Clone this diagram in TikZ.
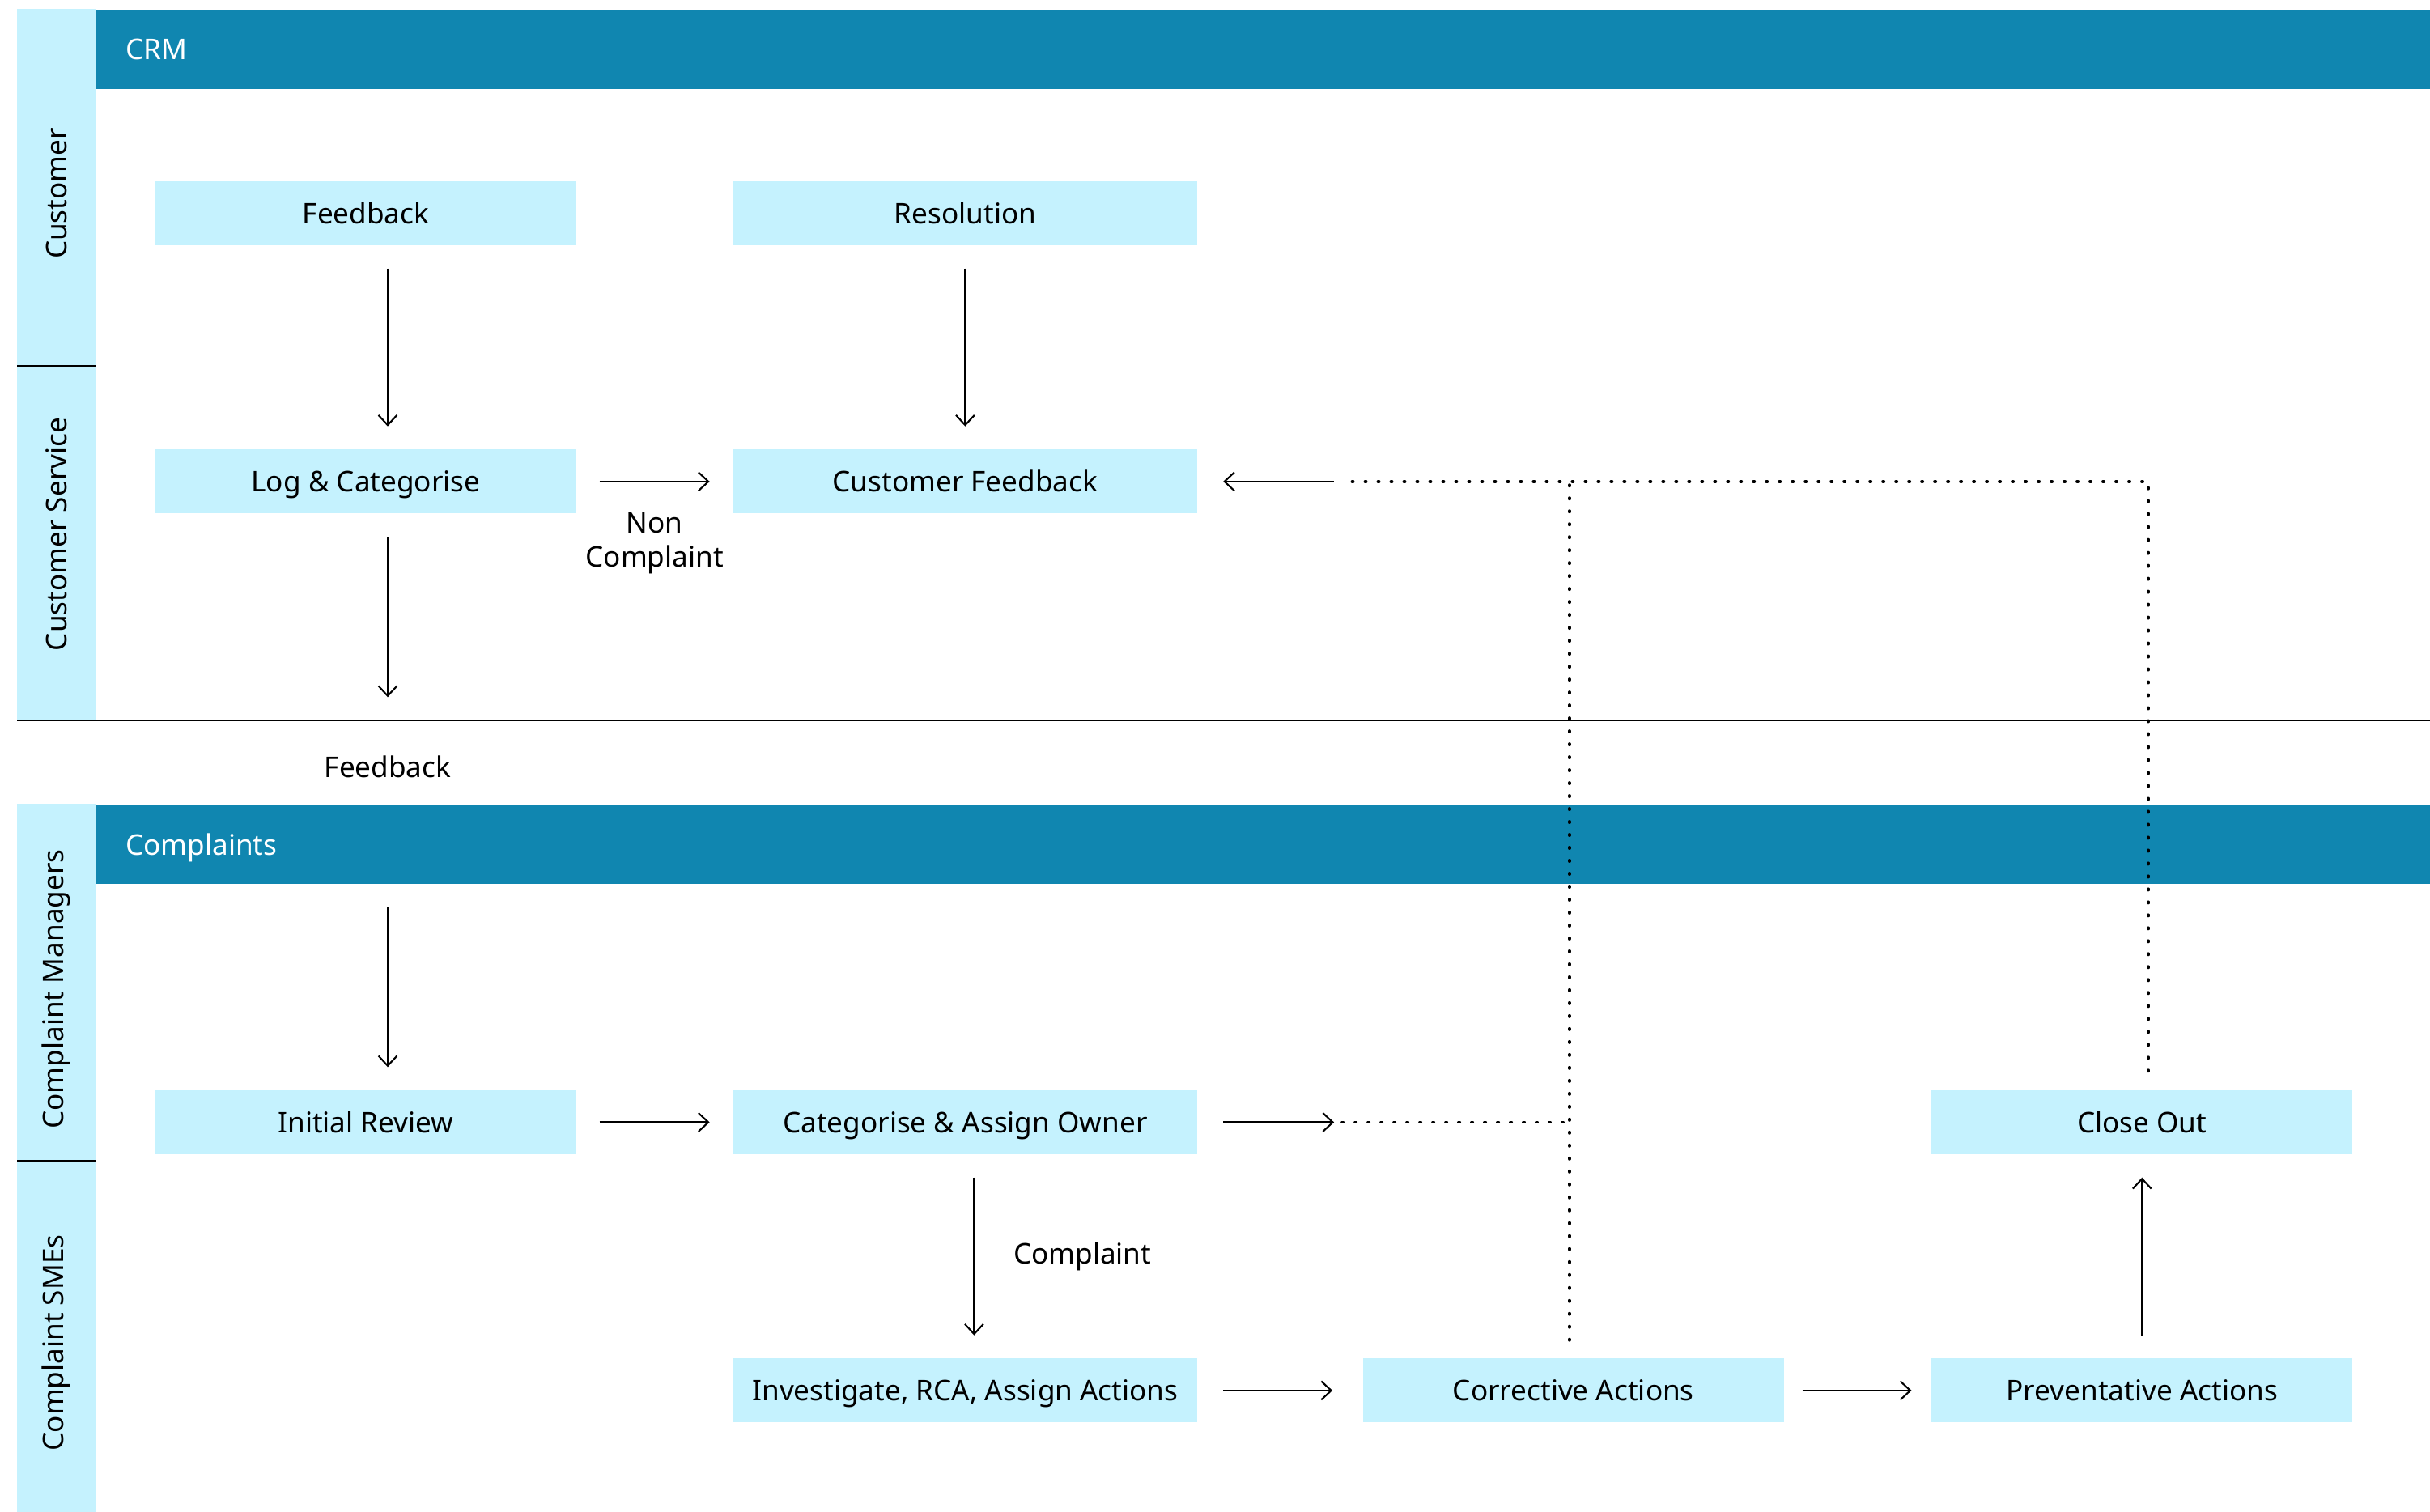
\documentclass[tikz,border=0pt]{standalone}
\usepackage{fontspec}
\setmainfont{Noto Sans}
\usetikzlibrary{positioning,arrows.meta}

\definecolor{poolblue}{RGB}{16,134,176}
\definecolor{lanecyan}{RGB}{197,242,254}

\begin{document}
\begin{tikzpicture}[>={Straight Barb[length=3.5pt,width=6.5pt]},node distance=2.51cm,
  label/.style={text height=0.98em,text depth=0.24em},
  task/.style={label,fill=lanecyan,minimum width=5.2cm,minimum height=0.79cm,inner sep=0pt},
  widetask/.style={task,minimum width=5.74cm},
  flow/.style={->,line width=0.6pt,shorten <=2.8mm,shorten >=2.8mm},
  backlink/.style={line width=1.1pt,line cap=round,dash pattern=on 0.3pt off 4.25pt},
  poolbar/.style={fill=poolblue,minimum width=28.84cm,minimum height=0.98cm,inner sep=0pt,anchor=north west},
  pooltitle/.style={label,text=white,anchor=west},
  lanetitle/.style={rotate=90}]
  \useasboundingbox (0,0) rectangle (30.02,-18.68);

  % pools and lanes
  \fill[lanecyan] (0.21,-0.11) rectangle (1.18,-8.90);
  \fill[lanecyan] (0.21,-9.93) rectangle (1.18,-18.68);
  \node[poolbar] (crmbar) at (1.18,-0.11) {};
  \node[poolbar] (cplbar) at (1.18,-9.93) {};
  \node[pooltitle] (crm) at (1.43,-0.60) {CRM};
  \node[pooltitle] (cpl) at (1.43,-10.43) {Complaints};
  \draw[line width=0.6pt] (0.21,-4.52) -- (1.18,-4.52);
  \draw[line width=0.6pt] (0.21,-14.34) -- (1.18,-14.34);
  \draw[line width=0.6pt] (0.21,-8.90) -- (30.02,-8.90);
  \node[lanetitle] (cust) at (0.695,-2.39) {Customer};
  \node[lanetitle] (cserv) at (0.695,-6.60) {Customer Service};
  \node[lanetitle] (cmgr) at (0.695,-12.22) {Complaint Managers};
  \node[lanetitle] (csme) at (0.695,-16.59) {Complaint SMEs};

  % tasks
  \node[task] (fb) at (4.52,-2.635) {Feedback};
  \node[widetask,right=1.92cm of fb] (res) {Resolution};
  \node[task,below=of fb] (log) {Log \& Categorise};
  \node[widetask,below=of res] (cf) {Customer Feedback};
  \node[minimum height=1.14cm,inner sep=0pt] (fbk) at (4.79,-9.47) {Feedback};
  \node[task] (ir) at (4.52,-13.865) {Initial Review};
  \node[widetask,right=1.92cm of ir] (cat) {Categorise \& Assign Owner};
  \node[widetask,below=of cat] (inv) {Investigate, RCA, Assign Actions};
  \node[task,right=2.03cm of inv] (ca) {Corrective Actions};
  \node[task,right=1.81cm of ca] (pa) {Preventative Actions};
  \node[task,above=of pa] (co) {Close Out};

  % flows
  \draw[flow] (fb.south -| fbk) -- (log.north -| fbk);
  \draw[flow] (res) -- (cf);
  \draw[flow] (log) -- (cf) node[midway,below=2.6mm,align=center] {Non\\Complaint};
  \draw[flow] (log.south -| fbk) -- (fbk);
  \draw[flow] (cplbar.south -| fbk) -- (ir.north -| fbk);
  \draw[flow] (ir) -- (cat);
  \draw[flow] ([xshift=1.1mm]cat.south) -- ([xshift=1.1mm]inv.north)
    node[midway,right=3.6mm] {Complaint};
  \draw[flow,shorten <=3.1mm,shorten >=3.7mm] (inv) -- (ca);
  \draw[flow,shorten <=2.2mm,shorten >=2.4mm] (ca) -- (pa);
  \draw[flow] (pa) -- (co);

  % feedback loops
  \coordinate (ret) at ([xshift=1.68cm]cf.east);
  \coordinate (fwd) at ([xshift=1.68cm]cat.east);
  \coordinate (caup) at ([xshift=-0.5mm]ca.north);
  \coordinate (coup) at ([xshift=0.8mm]co.north);
  \draw[flow,shorten <=0pt,shorten >=3.1mm] (ret) -- (cf.east);
  \draw[flow,shorten <=3.1mm,shorten >=0pt] (cat.east) -- (fwd);
  \draw[backlink] ([xshift=1mm]fwd) -- (fwd -| caup);
  \draw[backlink,shorten <=2.2mm] (caup) -- (caup |- cf.east);
  \draw[backlink,shorten <=2.3mm] (coup) -- (coup |- cf.east) -- ([xshift=1mm]ret);
\end{tikzpicture}
\end{document}
